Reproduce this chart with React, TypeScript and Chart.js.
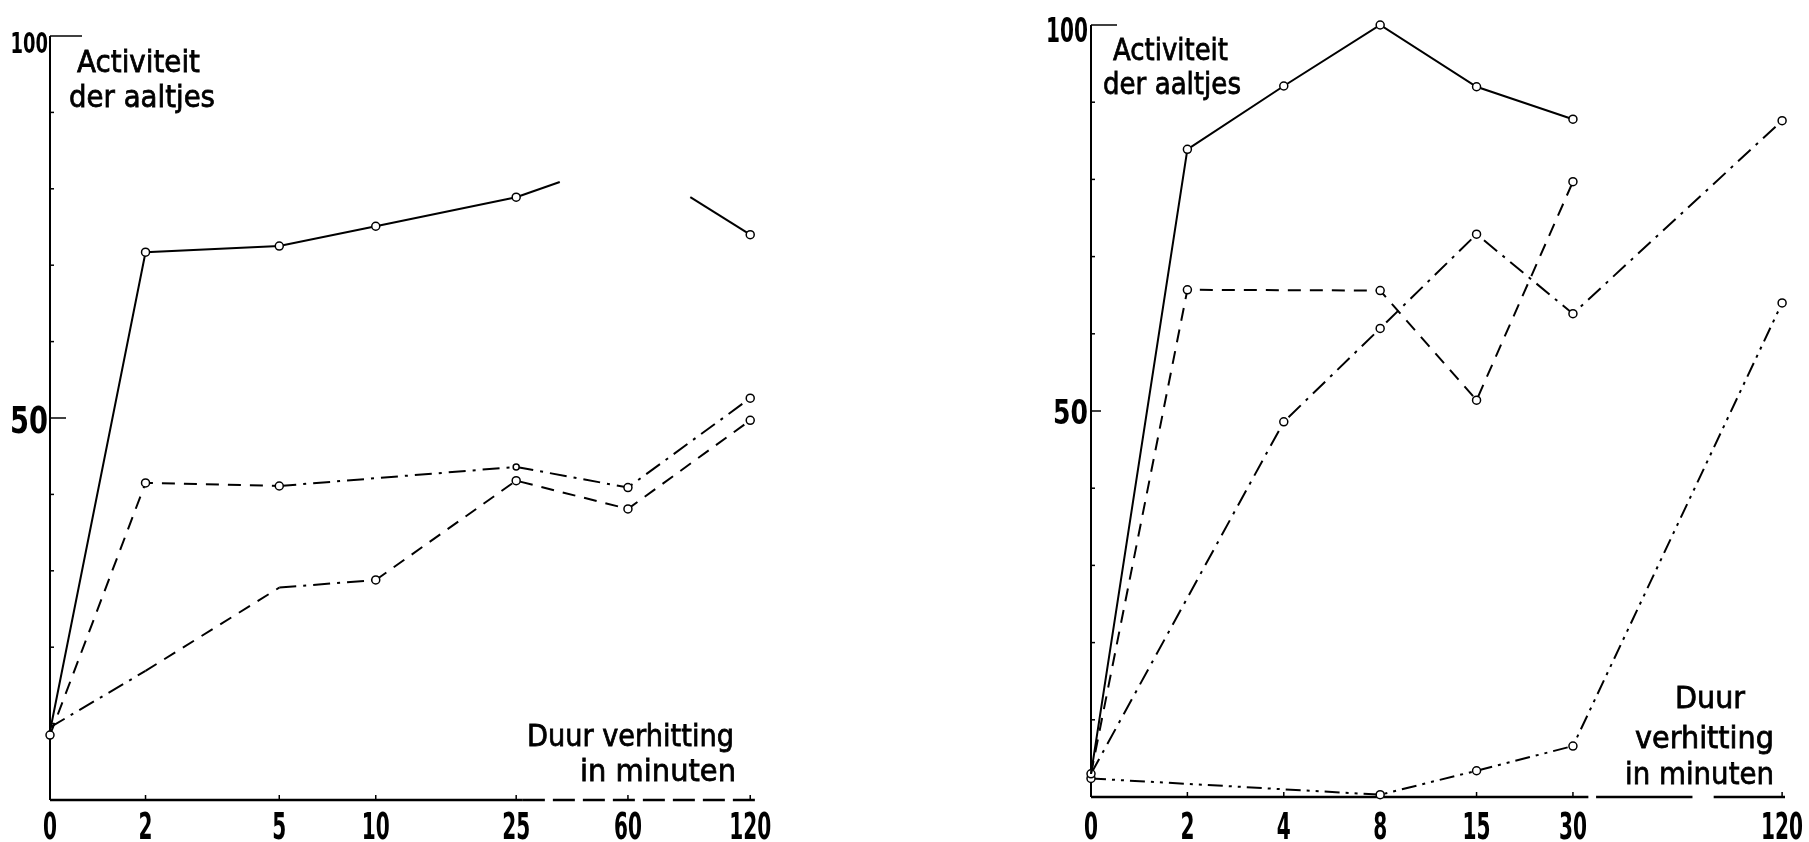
import React, { useEffect, useRef } from 'react';
import { Chart, registerables } from 'chart.js';

Chart.register(...registerables);

// ---------- data: left panel ----------
const leftTickLabels = ['0', '2', '5', '10', '25', '60', '120'];
// positions of the minute ticks along the hand-drawn (non-uniform) time axis
const leftTickPos = [0, 1, 2.4, 3.41, 4.88, 6.05, 7.33];
const leftSolid = [9, 71.7, 72.5, 75.1, 78.9, 84, 74.0];
const leftDashed = [8.5, 41.5, 41.1, null, 43.6, 40.9, 52.6];
const leftDashDot = [9.5, 16.9, 27.8, 28.8, 41.8, 38.1, 49.7];

// ---------- data: right panel ----------
const rightTickLabels = ['0', '2', '4', '8', '15', '30', '120'];
const rightTickPos = [0, 1, 2, 3, 4, 5, 7.17];
const rightSolid = [3, 83.9, 92.1, 100, 92.0, 87.8, null];
const rightDashed = [3, 65.7, null, 65.6, 51.4, 79.7, null];
const rightDashDot = [3, null, 48.6, 60.7, 72.9, 62.6, 87.6];
const rightDashDotDot = [2.4, null, null, 0.3, 3.4, 6.6, 64.0];

const yTickValues = [50, 100];
const yTitle = ['Activiteit', 'der aaltjes'];
const xTitleLeft = ['Duur verhitting', 'in minuten'];
const xTitleRight = ['Duur', 'verhitting', 'in minuten'];

const FONT = '"DejaVu Sans", "Noto Sans", Roboto, sans-serif';
const TICK_WEIGHT = 'bold';
const TITLE_WEIGHT = 'normal';
const DASH = [13, 9];
const DASHDOT = [17, 7, 3, 7];
const DASHDOTDOT = [15, 6, 3, 6, 3, 6];

const pts = (pos: number[], vals: (number | null)[]) => vals.map((v, i) => ({ x: pos[i], y: v }));

type TextItem = { text: string; x: number; y: number; w: number; align: 'left' | 'right' | 'center'; size: number };

function drawFitText(ctx: CanvasRenderingContext2D, t: TextItem) {
  ctx.save();
  ctx.font = `${TITLE_WEIGHT} ${t.size}px ${FONT}`;
  ctx.textBaseline = 'middle';
  ctx.textAlign = 'left';
  ctx.fillStyle = '#000';
  ctx.strokeStyle = '#000';
  ctx.lineWidth = 0.8;
  const m = ctx.measureText(t.text).width;
  const s = t.w / m;
  const left = t.align === 'right' ? t.x - t.w : t.align === 'center' ? t.x - t.w / 2 : t.x;
  ctx.translate(left, t.y);
  ctx.scale(s, 1);
  ctx.fillText(t.text, 0, 0);
  ctx.strokeText(t.text, 0, 0);
  ctx.restore();
}

// condensed text drawn on an alphabetic baseline, fitted to a digit width
function drawCondensed(
  ctx: CanvasRenderingContext2D,
  text: string,
  x: number,
  baseline: number,
  size: number,
  charW: number,
  align: 'left' | 'right' | 'center'
) {
  ctx.save();
  ctx.font = `${TICK_WEIGHT} ${size}px ${FONT}`;
  ctx.textBaseline = 'alphabetic';
  ctx.textAlign = 'left';
  ctx.fillStyle = '#000';
  const natural = ctx.measureText(text).width;
  const w = charW * text.length;
  const factor = w / natural;
  const left = align === 'right' ? x - w : align === 'center' ? x - w / 2 : x;
  ctx.translate(left, baseline);
  ctx.scale(factor, 1);
  ctx.fillText(text, 0, 0);
  ctx.restore();
}

type YLabel = { value: number; size: number; charW: number; shift: number };

type Decor = {
  axisSegs: { from: number; to: number; dash: number[] }[];
  tickPos: number[];
  tickLabels: string[];
  xLabelBaseline: number;
  yLabels: YLabel[];
  yLabelGap: number;
  topTickLen: number;
  midTickLen: number;
  texts: TextItem[];
};

function makeDecor(cfg: Decor) {
  return {
    id: 'decor',
    beforeDatasetsDraw(chart: any) {
      const { ctx, chartArea: a, scales } = chart;
      const x = scales.x, y = scales.y;
      ctx.save();
      ctx.strokeStyle = '#000';
      ctx.lineCap = 'butt';
      // y axis
      ctx.lineWidth = 2;
      ctx.beginPath();
      ctx.moveTo(a.left, y.getPixelForValue(100));
      ctx.lineTo(a.left, a.bottom);
      ctx.stroke();
      // y ticks (inward)
      ctx.lineWidth = 1.5;
      for (let v = 10; v <= 100; v += 10) {
        const py = y.getPixelForValue(v);
        const len = v === 100 ? cfg.topTickLen : v === 50 ? cfg.midTickLen : 4;
        ctx.beginPath();
        ctx.moveTo(a.left, py);
        ctx.lineTo(a.left + len, py);
        ctx.stroke();
      }
      // x axis
      ctx.lineWidth = 2.5;
      for (const s of cfg.axisSegs) {
        ctx.setLineDash(s.dash);
        ctx.beginPath();
        ctx.moveTo(x.getPixelForValue(s.from), a.bottom);
        ctx.lineTo(x.getPixelForValue(s.to), a.bottom);
        ctx.stroke();
      }
      ctx.setLineDash([]);
      ctx.lineWidth = 1.5;
      for (const p of cfg.tickPos) {
        const px = x.getPixelForValue(p);
        ctx.beginPath();
        ctx.moveTo(px, a.bottom);
        ctx.lineTo(px, a.bottom - 5);
        ctx.stroke();
      }
      ctx.restore();
      // x tick labels
      cfg.tickPos.forEach((p, i) => {
        drawCondensed(ctx, cfg.tickLabels[i], x.getPixelForValue(p), cfg.xLabelBaseline, 37, 14, 'center');
      });
      // y tick labels
      for (const l of cfg.yLabels) {
        const py = y.getPixelForValue(l.value);
        drawCondensed(ctx, String(l.value), a.left - cfg.yLabelGap, py + l.size * 0.365 + l.shift, l.size, l.charW, 'right');
      }
      for (const t of cfg.texts) drawFitText(ctx, t);
    },
  };
}

const baseDataset = {
  borderColor: '#000',
  borderWidth: 2,
  pointBackgroundColor: '#fff',
  pointBorderColor: '#000',
  pointBorderWidth: 1.5,
  tension: 0,
  spanGaps: true,
  clip: false as any,
  fill: false,
};

function makeOptions(tickPos: number[], xMax: number, yWidth: number, xHeight: number, padTop: number, padRight: number): any {
  return {
    animation: false,
    responsive: false,
    maintainAspectRatio: false,
    layout: { padding: { top: padTop, right: padRight, left: 0, bottom: 0 } },
    plugins: { legend: { display: false }, tooltip: { enabled: false } },
    scales: {
      x: {
        type: 'linear',
        min: 0,
        max: xMax,
        grid: { display: false, drawTicks: false },
        border: { display: false },
        afterBuildTicks: (s: any) => {
          s.ticks = tickPos.map((v) => ({ value: v }));
        },
        afterFit: (s: any) => {
          s.height = xHeight;
        },
        ticks: { display: false },
      },
      y: {
        type: 'linear',
        min: 0,
        max: 100,
        grid: { display: false, drawTicks: false },
        border: { display: false },
        afterBuildTicks: (s: any) => {
          s.ticks = yTickValues.map((v) => ({ value: v }));
        },
        afterFit: (s: any) => {
          s.width = yWidth;
        },
        ticks: { display: false },
      },
    },
  };
}

function segLen(c: any) {
  return Math.hypot(c.p1.x - c.p0.x, c.p1.y - c.p0.y);
}

function LeftChart() {
  const ref = useRef<HTMLCanvasElement>(null);
  useEffect(() => {
    const chart = new Chart(ref.current as HTMLCanvasElement, {
      type: 'line',
      data: {
        datasets: [
          {
            ...baseDataset,
            data: pts(leftTickPos, leftSolid),
            pointRadius: [0, 4, 4, 4, 4, 0, 4],
            segment: {
              borderDash: (c: any) => {
                const len = segLen(c);
                if (c.p0DataIndex === 4) return [len * 0.39, len * 3];
                if (c.p0DataIndex === 5) return [0, len * 0.51, len * 0.49, len * 3];
                return undefined;
              },
            },
          },
          {
            ...baseDataset,
            data: pts(leftTickPos, leftDashed),
            pointRadius: [4, 4, 4, 0, 3, 4, 4],
            segment: {
              borderDash: (c: any) => (c.p1DataIndex <= 2 ? DASH : DASHDOT),
            },
          },
          {
            ...baseDataset,
            data: pts(leftTickPos, leftDashDot),
            pointRadius: [0, 0, 0, 4, 4, 4, 4],
            segment: {
              borderDash: (c: any) => (c.p0DataIndex === 0 || c.p0DataIndex === 2 ? DASHDOT : DASH),
            },
          },
        ] as any,
      },
      options: makeOptions(leftTickPos, 7.38, 50, 42, 36, 45),
      plugins: [
        makeDecor({
          axisSegs: [
            { from: 0, to: 4.95, dash: [] },
            { from: 4.95, to: 7.38, dash: [22, 8] },
          ],
          tickPos: leftTickPos,
          tickLabels: leftTickLabels,
          xLabelBaseline: 839,
          yLabels: [
            { value: 50, size: 37, charW: 19, shift: 1 },
            { value: 100, size: 28, charW: 12.5, shift: 7 },
          ],
          yLabelGap: 2,
          topTickLen: 32,
          midTickLen: 16,
          texts: [
            { text: yTitle[0], x: 77, y: 64, w: 123, align: 'left', size: 31 },
            { text: yTitle[1], x: 69, y: 99, w: 146, align: 'left', size: 31 },
            { text: xTitleLeft[0], x: 734, y: 738, w: 207, align: 'right', size: 31 },
            { text: xTitleLeft[1], x: 736, y: 773, w: 156, align: 'right', size: 31 },
          ],
        }),
      ],
    });
    return () => chart.destroy();
  }, []);
  return <canvas ref={ref} width={800} height={842} style={{ position: 'absolute', left: 0, top: 0 }} />;
}

function RightChart() {
  const ref = useRef<HTMLCanvasElement>(null);
  useEffect(() => {
    const chart = new Chart(ref.current as HTMLCanvasElement, {
      type: 'line',
      data: {
        datasets: [
          {
            ...baseDataset,
            data: pts(rightTickPos, rightSolid),
            pointRadius: [0, 4, 4, 4, 4, 4, 0],
          },
          {
            ...baseDataset,
            data: pts(rightTickPos, rightDashed),
            borderDash: DASH,
            pointRadius: [0, 4, 0, 4, 4, 4, 0],
          },
          {
            ...baseDataset,
            data: pts(rightTickPos, rightDashDot),
            borderDash: DASHDOT,
            pointRadius: [4, 0, 4, 4, 4, 4, 4],
          },
          {
            ...baseDataset,
            data: pts(rightTickPos, rightDashDotDot),
            borderDash: DASHDOTDOT,
            pointRadius: [4, 0, 0, 4, 4, 4, 4],
          },
        ] as any,
      },
      options: makeOptions(rightTickPos, 7.2, 101, 45, 25, 24),
      plugins: [
        makeDecor({
          axisSegs: [
            { from: 0, to: 5.16, dash: [] },
            { from: 5.24, to: 6.24, dash: [] },
            { from: 6.46, to: 7.2, dash: [] },
          ],
          tickPos: rightTickPos,
          tickLabels: rightTickLabels,
          xLabelBaseline: 839,
          yLabels: [
            { value: 50, size: 34, charW: 17.5, shift: 1 },
            { value: 100, size: 33, charW: 14, shift: 5 },
          ],
          yLabelGap: 3,
          topTickLen: 26,
          midTickLen: 10,
          texts: [
            { text: yTitle[0], x: 123, y: 52, w: 115, align: 'left', size: 31 },
            { text: yTitle[1], x: 113, y: 86, w: 138, align: 'left', size: 31 },
            { text: xTitleRight[0], x: 720, y: 700, w: 70, align: 'center', size: 31 },
            { text: xTitleRight[1], x: 784, y: 740, w: 139, align: 'right', size: 31 },
            { text: xTitleRight[2], x: 784, y: 776, w: 149, align: 'right', size: 31 },
          ],
        }),
      ],
    });
    return () => chart.destroy();
  }, []);
  return <canvas ref={ref} width={819} height={842} style={{ position: 'absolute', left: 990, top: 0 }} />;
}

export default function App() {
  return (
    <div style={{ position: 'fixed', left: 0, top: 0, width: 1809, height: 842, background: '#fff', overflow: 'hidden' }}>
      <LeftChart />
      <RightChart />
    </div>
  );
}
